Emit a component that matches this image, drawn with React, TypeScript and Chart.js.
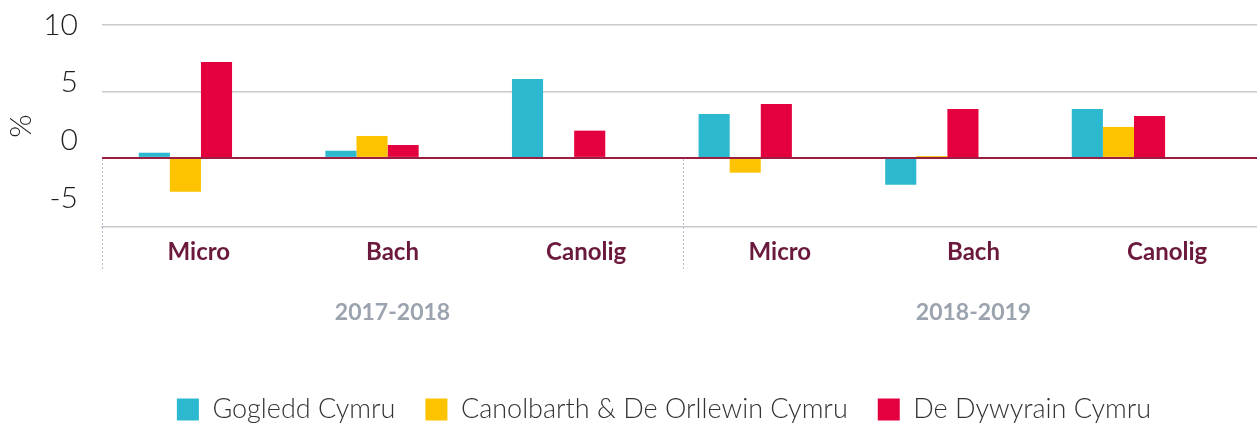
import React, { useEffect, useRef } from 'react';
import { Chart, registerables } from 'chart.js';

Chart.register(...registerables);
Chart.defaults.font.family = 'Lato';

// ---- data ----
const categories = ['Micro', 'Bach', 'Canolig', 'Micro', 'Bach', 'Canolig'];
const years = ['2017-2018', '2018-2019'];
const seriesNames = ['Gogledd Cymru', 'Canolbarth & De Orllewin Cymru', 'De Dywyrain Cymru'];
const gogleddCymru = [0.39, 0.54, 5.94, 3.3, -2.02, 3.68];
const canolbarthDeOrllewinCymru = [-2.54, 1.65, null, -1.11, 0.14, 2.33];
const deDwyrainCymru = [7.22, 0.97, 2.05, 4.06, 3.68, 3.15];
const yTickValues = [10, 5, 0, -5];
const gridTickValues = [10, 5, 0];

const seriesColors = ['#2cb8cf', '#fdc300', '#e4003f'];
const ZERO_COLOR = '#9b1d42';
const GRID_COLOR = '#c6cace';

const overlayPlugin = {
  id: 'overlay',
  afterDatasetsDraw(chart: any) {
    const { ctx, chartArea } = chart;
    const xs = chart.scales.x;
    const ys = chart.scales.y;
    const y0 = ys.getPixelForValue(0);
    ctx.save();
    ctx.strokeStyle = ZERO_COLOR;
    ctx.lineWidth = 2;
    ctx.beginPath();
    ctx.moveTo(chartArea.left, y0);
    ctx.lineTo(chartArea.right, y0);
    ctx.stroke();

    const per = categories.length / years.length;
    const bounds: number[] = [];
    for (let g = 0; g <= years.length; g++) {
      const i = g * per;
      let px: number;
      if (i === 0) px = xs.left;
      else if (i >= categories.length) px = xs.right;
      else px = (xs.getPixelForValue(i - 1) + xs.getPixelForValue(i)) / 2;
      bounds.push(px);
    }
    ctx.strokeStyle = '#b7bdc9';
    ctx.lineWidth = 1;
    ctx.setLineDash([2, 2]);
    bounds.forEach((px) => {
      const x = Math.round(px) + 0.5;
      ctx.beginPath();
      ctx.moveTo(x, y0 + 1);
      ctx.lineTo(x, xs.bottom + 2);
      ctx.stroke();
    });
    ctx.restore();
  },
};

export default function App() {
  const ref = useRef<HTMLCanvasElement>(null);

  useEffect(() => {
    const toPoints = (vals: (number | null)[]) => vals.map((v, i) => ({ x: i, y: v }));
    const seriesValues = [gogleddCymru, canolbarthDeOrllewinCymru, deDwyrainCymru];
    const chart = new Chart(ref.current as HTMLCanvasElement, {
      type: 'bar',
      data: {
        labels: categories,
        datasets: seriesValues.map((vals, k) => ({
          label: seriesNames[k],
          data: toPoints(vals) as any,
          backgroundColor: seriesColors[k],
          borderWidth: 0,
          xAxisID: 'xb',
          yAxisID: 'y',
        })),
      },
      options: {
        animation: false,
        responsive: true,
        maintainAspectRatio: false,
        layout: { padding: { top: 25, left: 0, right: 0, bottom: 0 } },
        datasets: { bar: { categoryPercentage: 0.5, barPercentage: 1 } },
        plugins: {
          tooltip: { enabled: false },
          legend: {
            position: 'bottom',
            labels: {
              boxWidth: 22,
              boxHeight: 22,
              padding: 30,
              color: '#333',
              font: { family: 'Lato', size: 27, weight: '300' as any },
            },
          },
        },
        scales: {
          x: {
            type: 'category',
            labels: categories,
            position: 'bottom',
            offset: true,
            grid: { display: false, drawTicks: false },
            border: { display: true, color: GRID_COLOR, width: 1.5 },
            ticks: {
              padding: 11,
              color: '#6b1a3d',
              maxRotation: 0,
              autoSkip: false,
              font: { family: 'Lato', size: 24, weight: 'bold' },
            },
            afterFit: (s: any) => {
              s.height = 40;
            },
          },
          x2: {
            type: 'category',
            labels: years,
            position: 'bottom',
            offset: true,
            grid: { display: false, drawTicks: false },
            border: { display: false },
            ticks: {
              padding: 32,
              color: '#9ba3ae',
              maxRotation: 0,
              font: { family: 'Lato', size: 23, weight: 'bold' },
            },
            afterFit: (s: any) => {
              s.height = 99;
            },
          },
          xb: {
            type: 'linear',
            display: false,
            offset: false,
            min: -0.447,
            max: 5.78,
            afterBuildTicks: (s: any) => {
              s.ticks = categories.map((_, i) => ({ value: i }));
            },
          },
          y: {
            type: 'linear',
            position: 'left',
            min: -5.2,
            max: 10,
            afterBuildTicks: (s: any) => {
              s.ticks = gridTickValues.map((v) => ({ value: v }));
            },
            ticks: { display: false },
            border: { display: false },
            grid: {
              drawTicks: false,
              color: (c: any) => (c.tick && c.tick.value === 0 ? ZERO_COLOR : GRID_COLOR),
              lineWidth: (c: any) => (c.tick && c.tick.value === 0 ? 2 : 1.5),
            },
          },
          yl: {
            type: 'linear',
            position: 'left',
            min: -7.5,
            max: 10,
            grid: { display: false, drawTicks: false },
            border: { display: false },
            afterBuildTicks: (s: any) => {
              s.ticks = yTickValues.map((v) => ({ value: v }));
            },
            ticks: {
              padding: 24,
              color: '#1e1e1e',
              font: { family: 'Lato', size: 30, weight: '300' as any },
            },
            title: {
              display: true,
              text: '%',
              color: '#1e1e1e',
              font: { family: 'Lato', size: 30, weight: '300' as any },
              padding: { top: 3, bottom: 0 },
            },
            afterFit: (s: any) => {
              s.width = 102;
              s.paddingTop = 0;
              s.paddingBottom = 0;
            },
          },
          yr: {
            type: 'linear',
            position: 'right',
            grid: { display: false, drawTicks: false },
            border: { display: false },
            ticks: { display: false },
            afterFit: (s: any) => {
              s.width = 64;
              s.paddingTop = 0;
              s.paddingBottom = 0;
            },
          },
        },
      } as any,
      plugins: [overlayPlugin],
    });
    return () => chart.destroy();
  }, []);

  return (
    <div
      style={{
        position: 'fixed',
        left: 0,
        top: 0,
        width: 1257,
        height: 423,
        overflow: 'hidden',
        background: '#fff',
      }}
    >
      <div style={{ position: 'relative', width: 1328, height: 433 }}>
        <canvas ref={ref} />
      </div>
    </div>
  );
}
